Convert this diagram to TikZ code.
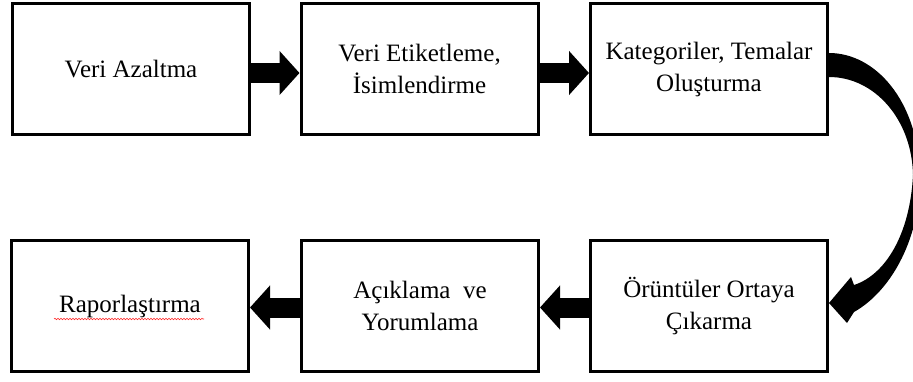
\documentclass[tikz,border=0pt]{standalone}
\usepackage{fontspec}
\setmainfont{Liberation Serif}
\usetikzlibrary{arrows.meta,decorations.pathmorphing,calc}

\begin{document}
\begin{tikzpicture}[x=1pt,y=-1pt,
  stage/.style={draw, line width=3pt, minimum width=237pt, minimum height=131pt,
    inner sep=0pt, align=center, font=\fontsize{25}{32}\selectfont},
  blockarrow/.style={line width=20pt, -{Triangle[length=20pt,width=43pt]}},
  spellmark/.style={draw=red!85, line width=0.6pt, decorate,
    decoration={snake, amplitude=0.7pt, segment length=3pt}}]
\clip (0,0) rectangle (913,382);
\fill[white] (0,0) rectangle (913,382);

% process stages, top row left to right, bottom row right to left
\node[stage] (b1) at (131,69) {Veri Azaltma};
\node[stage] (b2) at (419.5,69) {Veri Etiketleme,\\İsimlendirme};
\node[stage] (b3) at (709,69) {Kategoriler, Temalar\\Oluşturma};
\node[stage] (b6) at (709,306) {Örüntüler Ortaya\\Çıkarma};
\node[stage] (b5) at (420,306) {Açıklama \ ve\\Yorumlama};
\node[stage] (b4) at (130,306) {Raporlaştırma};

% spelling underline under the last stage
\path[spellmark] ($(b4.center)+(-76,13)$) -- ($(b4.center)+(74,13)$);

% straight block arrows
\draw[blockarrow] ([yshift=-4pt]b1.east) -- ([yshift=-4pt]b2.west);
\draw[blockarrow] ([yshift=-4pt]b2.east) -- ([yshift=-4pt]b3.west);
\draw[blockarrow] ([yshift=-1.5pt]b6.west) -- ([yshift=-1.5pt]b5.east);
\draw[blockarrow] ([yshift=-1.5pt]b5.west) -- ([yshift=-1.5pt]b4.east);

% curved block arrow from the top row down to the bottom row
\fill (b3.east |- 0,53) .. controls (875,53) and (918,100) .. (920,175)
  .. controls (921,235) and (893,290) .. (854,312)
  -- (847,323) -- (b6.east |- 0,303) -- (851,277) -- (854,285)
  .. controls (885,275) and (910,235) .. (913,175)
  .. controls (912,120) and (875,77) .. (b3.east |- 0,77) -- cycle;
\end{tikzpicture}
\end{document}
